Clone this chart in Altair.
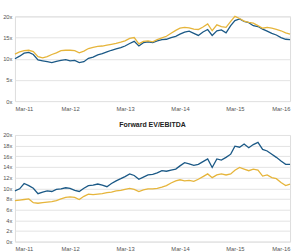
import altair as alt
import pandas as pd

months = pd.date_range("2011-03-01", periods=61, freq="MS").strftime("%Y-%m-%d").tolist()

top_blue = [10.0, 10.6, 11.3, 11.5, 11.0, 9.7, 9.5, 9.3, 9.1, 9.4, 9.6, 9.8, 9.5, 9.6, 9.1,
            9.3, 10.1, 10.4, 10.9, 11.2, 11.6, 12.0, 12.3, 12.6, 13.0, 13.6, 14.1, 13.0, 13.8,
            14.0, 13.8, 14.2, 14.5, 14.6, 15.0, 15.3, 15.8, 16.3, 16.5, 16.0, 15.5, 16.3, 16.9,
            15.5, 16.6, 16.8, 16.1, 17.8, 19.0, 19.4, 18.8, 18.5, 17.8, 17.6, 17.0, 16.5, 16.0,
            15.6, 15.0, 14.6, 14.5]
top_gold = [11.1, 11.6, 11.9, 12.0, 11.7, 10.5, 10.2, 10.5, 11.0, 11.4, 11.9, 12.0, 12.0, 11.9,
            11.4, 11.8, 12.4, 12.7, 12.9, 13.0, 13.2, 13.4, 13.6, 13.9, 14.2, 14.8, 15.0, 13.5,
            14.1, 14.2, 14.0, 14.5, 14.9, 15.3, 16.0, 16.7, 17.2, 17.4, 17.3, 17.0, 16.9, 17.5,
            18.2, 16.6, 18.0, 17.6, 17.4, 18.8, 20.0, 19.5, 18.9, 18.6, 18.4, 17.8, 17.2, 17.4,
            17.2, 16.9, 16.6, 16.1, 15.8]
bottom_blue = [9.5, 9.9, 10.9, 10.5, 10.0, 9.0, 9.3, 9.5, 9.4, 9.8, 9.9, 10.1, 10.0, 9.6, 9.4,
               10.0, 10.5, 10.6, 10.8, 10.6, 10.3, 10.9, 11.4, 11.8, 12.2, 12.7, 12.4, 11.7, 12.1,
               12.5, 12.6, 12.9, 13.3, 13.2, 13.4, 13.6, 14.2, 14.8, 14.6, 14.3, 14.5, 15.0, 15.5,
               13.9, 15.5, 15.3, 15.8, 16.4, 17.9, 17.7, 18.3, 17.6, 18.2, 18.6, 17.3, 17.0, 16.4,
               15.8, 15.1, 14.5, 14.5]
bottom_gold = [7.7, 7.8, 7.9, 8.0, 7.3, 7.2, 7.3, 7.4, 7.5, 7.7, 8.0, 8.3, 8.4, 8.3, 7.9, 8.5,
               8.9, 8.8, 8.9, 9.0, 9.2, 9.3, 9.5, 9.6, 9.8, 10.0, 9.8, 9.4, 9.7, 9.9, 9.9, 10.0,
               10.2, 10.5, 11.0, 11.4, 11.6, 11.4, 11.5, 11.3, 11.7, 12.2, 12.7, 12.0, 12.5, 12.7,
               12.5, 12.7, 13.4, 13.9, 13.6, 13.3, 13.6, 13.4, 12.3, 12.5, 12.0, 11.8, 11.1, 10.5,
               10.8]

series_names = ["Series A", "Series B"]
series_colors = ["#1b5986", "#e6b53b"]
tick_years = [2011, 2012, 2013, 2014, 2015, 2016]
top_ticks = [0, 5, 10, 15, 20]
bottom_ticks = [0, 2, 4, 6, 8, 10, 12, 14, 16, 18, 20]

FONT = "Liberation Sans"
W = 276


def panel(blue, gold, ticks, height, title=None):
    df = pd.DataFrame({
        "date": months * 2,
        "value": blue + gold,
        "series": [series_names[0]] * len(blue) + [series_names[1]] * len(gold),
    })
    props = dict(width=W, height=height)
    if title:
        props["title"] = alt.TitleParams(title, fontSize=7, fontWeight="bold", font=FONT,
                                         color="#222222", anchor="middle", offset=4)
    return alt.Chart(df).mark_line(strokeWidth=1.3).encode(
        x=alt.X("date:T",
                scale=alt.Scale(domain=[alt.DateTime(year=2011, month=3, date=1),
                                        alt.DateTime(year=2016, month=3, date=1)]),
                axis=alt.Axis(values=[alt.DateTime(year=y, month=3, date=1) for y in tick_years],
                              format="%b-%y", grid=False, domain=False, ticks=False,
                              labelFontSize=5.8, labelColor="#555555", labelFont=FONT,
                              labelPadding=4, labelOverlap=False, title=None)),
        y=alt.Y("value:Q",
                scale=alt.Scale(domain=[0, 20], nice=False, zero=True),
                axis=alt.Axis(values=ticks, labelExpr="datum.value + 'x'",
                              grid=True, gridColor="#e3e3e3", domain=False, ticks=False,
                              labelFontSize=5.8, labelColor="#555555", labelFont=FONT,
                              labelPadding=3, labelOverlap=False, title=None)),
        color=alt.Color("series:N", scale=alt.Scale(domain=series_names, range=series_colors),
                        legend=None),
    ).properties(**props)


top = panel(top_blue, top_gold, top_ticks, 85)
bottom = panel(bottom_blue, bottom_gold, bottom_ticks, 107, "Forward EV/EBITDA")

chart = alt.vconcat(top, bottom, spacing=8).properties(
    padding={"left": 2, "top": 12, "right": 6, "bottom": 0}
).resolve_scale(y="independent", x="independent").resolve_axis(
    y="independent", x="independent"
).configure_view(stroke=None).configure(background="white")

chart.save("out.html", embed_options={"renderer": "svg", "actions": False})
